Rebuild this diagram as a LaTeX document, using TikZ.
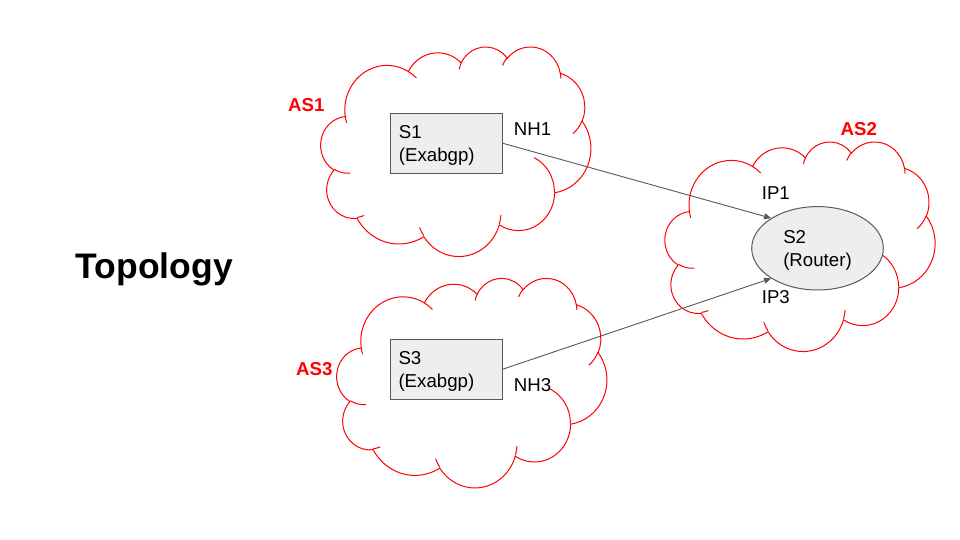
\documentclass[tikz,border=0pt]{standalone}
\usepackage{fontspec}
\setmainfont{Liberation Sans}
\usetikzlibrary{shapes.geometric,arrows.meta}
\definecolor{cloudred}{HTML}{FF0000}
\definecolor{linegray}{HTML}{595959}
\definecolor{boxfill}{HTML}{EEEEEE}
% one elliptical arc of the cloud outline (radii a, b; visual start angle, sweep; y-down convention)
\newcommand\CA[4]{arc[start angle={-atan2((#1)*sin(#3),(#2)*cos(#3))},
  delta angle={-mod(atan2((#1)*sin((#3)+(#4)),(#2)*cos((#3)+(#4)))-atan2((#1)*sin(#3),(#2)*cos(#3))+720,360)},
  x radius={(#1)*\csx*1pt}, y radius={(#2)*\csy*1pt}]}
\newcommand\CP[2]{({(#1)*\csx},{-(#2)*\csy})}
\newcommand\cloudat[4]{%
  \pgfmathsetmacro\csx{(#3)/432}%
  \pgfmathsetmacro\csy{(#4)/432}%
  \begin{scope}[shift={(#1,{540-(#2)})}]
  \draw[cloudline] \CP{39.00}{143.70}
    \CA{67.53}{91.90}{-190.4875}{123.7805}
    \CA{53.33}{72.67}{-144.1024}{89.9452}
    \CA{43.65}{59.45}{-145.8079}{99.7230}
    \CA{48.57}{65.95}{-130.9861}{117.2417}
    \CA{53.33}{72.73}{-78.7089}{109.0269}
    \CA{67.75}{92.20}{-46.2673}{130.2690}
    \CA{57.85}{78.67}{0.6250}{114.0333}
    \CA{67.52}{92.15}{22.4516}{115.1726}
    \CA{77.20}{105.43}{66.2426}{75.7110}
    \CA{43.60}{59.18}{-274.9421}{146.7356}
    \CA{43.45}{59.45}{-246.8285}{152.5189}
    -- cycle;
  \draw[cloudline]
    \CP{46.93}{261.77} \CA{43.45}{59.45}{86.7420}{26.4295}
    \CP{69.28}{348.99} \CA{43.60}{59.18}{73.6105}{11.4475}
    \CP{164.78}{390.90} \CA{67.52}{92.15}{137.6242}{14.0811}
    \CP{288.27}{347.51} \CA{67.52}{92.15}{6.4533}{15.9984}
    \CP{341.29}{229.54} \CA{57.85}{78.67}{-70.2924}{70.9174}
    \CP{417.98}{153.54} \CA{53.33}{72.73}{30.3180}{27.7515}
    \CP{383.24}{54.26} \CA{48.57}{65.95}{-13.7443}{14.8589}
    \CP{290.78}{39.52} \CA{48.57}{65.95}{-149.1815}{18.1954}
    \CP{221.41}{47.20} \CA{43.65}{59.45}{-163.4943}{17.6864}
    \CP{140.00}{51.92} \CA{67.53}{91.90}{-66.7070}{12.3194}
    \CP{41.27}{157.89} \CA{67.53}{91.90}{157.6544}{11.8582};
  \end{scope}}
\begin{document}
\begin{tikzpicture}[x=1pt,y=1pt,
  cloudline/.style={draw=cloudred,line width=1pt,line join=round},
  boxnode/.style={draw=linegray,fill=boxfill,line width=1pt,minimum width=112pt,minimum height=60pt,
    inner xsep=8.5pt,inner ysep=0pt,text width=95pt,align=left,text height=17.6pt,
    font=\fontsize{18.67}{22.4}\selectfont},
  routernode/.style={ellipse,draw=linegray,fill=boxfill,line width=1pt,minimum width=131.6pt,
    minimum height=83.4pt,inner sep=0pt,align=left,text depth=0pt,
    font=\fontsize{18.67}{22.4}\selectfont},
  link/.style={draw=linegray,line width=0.9pt,-{Triangle[length=7pt,width=6pt]}},
  lbl/.style={inner sep=0pt,anchor=base west,font=\fontsize{18.67}{22.4}\selectfont},
  aslbl/.style={inner sep=0pt,anchor=base west,text=cloudred,font=\fontsize{18.67}{22.4}\selectfont\bfseries},
  titlelbl/.style={inner sep=0pt,anchor=base west,font=\fontsize{35.5}{42.6}\selectfont\bfseries}]
\useasboundingbox (0,0) rectangle (960,540);
\fill[white] (0,0) rectangle (960,540);
% clouds
\cloudat{320.8}{46.3}{270}{209.5}
\cloudat{665}{141.3}{270}{209.5}
\cloudat{336.8}{277.7}{270}{209.5}
% nodes
\node[boxnode] (s1) at (446.4,396.7) {S1\\(Exabgp)};
\node[boxnode] (s3) at (446.0,170.7) {S3\\(Exabgp)};
\node[routernode] (s2) at (817.5,291.7) {S2\\(Router)};
% links
\draw[link] (s1.east) -- (s2.147);
\draw[link] (s3.east) -- (s2.213);
% labels
\node[lbl] (nh1) at (513.6,404) {NH1};
\node[lbl] (nh3) at (513.6,148.3) {NH3};
\node[lbl] (ip1) at (761.6,340) {IP1};
\node[lbl] (ip3) at (761.6,236) {IP3};
\node[aslbl] (as1) at (288,428.3) {AS1};
\node[aslbl] (as2) at (840.5,404.3) {AS2};
\node[aslbl] (as3) at (296,164) {AS3};
\node[titlelbl] (ttl) at (75.5,261.7) {Topology};
\end{tikzpicture}
\end{document}
